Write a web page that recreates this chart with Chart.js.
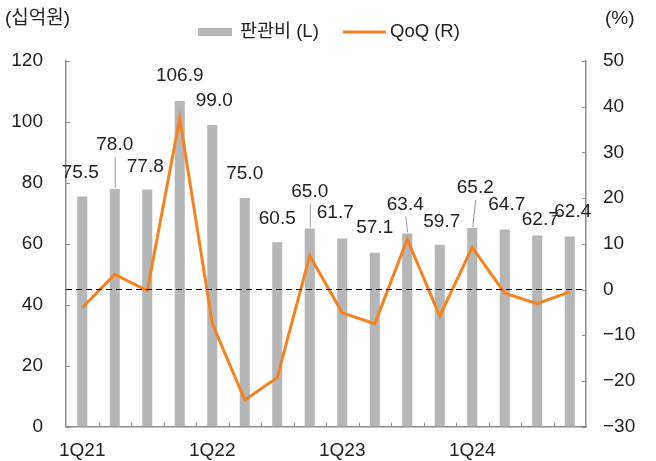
<!DOCTYPE html>
<html>
<head>
<meta charset="utf-8">
<script src="https://cdn.jsdelivr.net/npm/chart.js@4"></script>
<style>
  body { margin: 0; background: #fff; }
  #wrap { width: 656px; height: 461px; }
</style>
</head>
<body>
<div id="wrap"><canvas id="chart" width="656" height="461"></canvas></div>
<script>
const FONT = "'Liberation Sans', 'Noto Sans CJK KR', sans-serif";

// data
const quarters = ["1Q21", "2Q21", "3Q21", "4Q21", "1Q22", "2Q22", "3Q22", "4Q22",
  "1Q23", "2Q23", "3Q23", "4Q23", "1Q24", "2Q24", "3Q24", "4Q24"];
const sgaCost = [75.5, 78.0, 77.8, 106.9, 99.0, 75.0, 60.5, 65.0, 61.7, 57.1, 63.4, 59.7, 65.2, 64.7, 62.7, 62.4];
const qoqPct = [-4.0, 3.3, -0.3, 37.4, -7.4, -24.2, -19.3, 7.4, -5.1, -7.5, 11.0, -5.8, 9.2, -0.8, -3.1, -0.5];
const leftTicks = [0, 20, 40, 60, 80, 100, 120];
const rightTicks = [-30, -20, -10, 0, 10, 20, 30, 40, 50];

// label nudges (px) from the top of each bar, and which ones get a leader line
const labelShift = [[-2, -24], [0, -44], [-2, -23], [0, -25], [2, -24], [0, -24], [0, -24], [0, -37],
  [-7, -26], [0, -25], [-2, -29], [2, -23], [3, -40], [2, -25], [3, -16], [3, -25]];
const leaders = [1, 7, 10, 12];

const AXIS = "#8c8c8c";
const TEXT = "#222";

// inner tick marks, dashed zero line, legend, bar labels
const extras = {
  id: "extras",
  afterDatasetsDraw(chart) {
    const { ctx, chartArea, scales } = chart;
    const x = scales.x, y = scales.y, y1 = scales.y1;
    ctx.save();

    // dashed zero line for QoQ
    const y0 = y1.getPixelForValue(0);
    ctx.strokeStyle = "#000";
    ctx.lineWidth = 1.2;
    ctx.setLineDash([6, 4]);
    ctx.beginPath();
    ctx.moveTo(chartArea.left, y0);
    ctx.lineTo(chartArea.right, y0);
    ctx.stroke();
    ctx.setLineDash([]);

    // inner ticks
    ctx.strokeStyle = AXIS;
    ctx.lineWidth = 1;
    leftTicks.forEach(v => {
      const p = Math.round(y.getPixelForValue(v)) + 0.5;
      ctx.beginPath();
      ctx.moveTo(chartArea.left, p);
      ctx.lineTo(chartArea.left + 4, p);
      ctx.stroke();
    });
    rightTicks.forEach(v => {
      const p = Math.round(y1.getPixelForValue(v)) + 0.5;
      ctx.beginPath();
      ctx.moveTo(chartArea.right - 4, p);
      ctx.lineTo(chartArea.right, p);
      ctx.stroke();
    });
    const half = (x.getPixelForValue(1) - x.getPixelForValue(0)) / 2;
    for (let i = 1; i < quarters.length; i++) {
      const p = Math.round(x.getPixelForValue(i) - half) + 0.5;
      ctx.beginPath();
      ctx.moveTo(p, chartArea.bottom);
      ctx.lineTo(p, chartArea.bottom - 4);
      ctx.stroke();
    }

    // bar value labels
    const bars = chart.getDatasetMeta(1).data;
    ctx.font = "19px " + FONT;
    ctx.fillStyle = TEXT;
    ctx.textAlign = "center";
    ctx.textBaseline = "middle";
    bars.forEach((bar, i) => {
      const lx = bar.x + labelShift[i][0];
      const ly = bar.y + labelShift[i][1];
      ctx.fillText(sgaCost[i].toFixed(1), lx, ly);
      ctx.strokeStyle = "#999";
      ctx.lineWidth = 1;
      if (leaders.includes(i)) {
        ctx.beginPath();
        ctx.moveTo(lx + 0.5, ly + 12);
        ctx.lineTo(bar.x + 0.5, bar.y - 1);
        ctx.stroke();
      }
      if (i === quarters.length - 1) {
        // short stray leader next to the last label
        ctx.strokeStyle = "#333";
        ctx.beginPath();
        ctx.moveTo(lx - 21, ly + 4.5);
        ctx.lineTo(lx - 12, ly + 3.5);
        ctx.stroke();
      }
    });

    ctx.restore();
  },
  afterDraw(chart) {
    const { ctx } = chart;
    ctx.save();
    ctx.fillStyle = TEXT;
    ctx.font = "19px " + FONT;
    ctx.textBaseline = "middle";
    ctx.textAlign = "left";
    ctx.fillText("(십억원)", 5, 19);
    ctx.fillText("(%)", 605, 19);

    // legend
    ctx.font = "18.5px " + FONT;
    ctx.fillStyle = "#b5b6b8";
    ctx.fillRect(198, 28, 34, 8);
    ctx.fillStyle = TEXT;
    ctx.fillText("판관비 (L)", 240, 32);
    ctx.strokeStyle = "#f5821f";
    ctx.lineWidth = 3;
    ctx.beginPath();
    ctx.moveTo(343, 32);
    ctx.lineTo(386, 32);
    ctx.stroke();
    ctx.fillText("QoQ (R)", 390, 32);
    ctx.restore();
  }
};

new Chart(document.getElementById("chart"), {
  data: {
    labels: quarters,
    datasets: [
      {
        type: "line",
        label: "QoQ (R)",
        data: qoqPct,
        yAxisID: "y1",
        borderColor: "#f5821f",
        borderWidth: 3,
        pointRadius: 0,
        tension: 0,
        order: 0
      },
      {
        type: "bar",
        label: "판관비 (L)",
        data: sgaCost,
        yAxisID: "y",
        backgroundColor: "#b5b6b8",
        barPercentage: 0.31,
        categoryPercentage: 1,
        order: 1
      }
    ]
  },
  options: {
    responsive: false,
    animation: false,
    layout: { padding: { top: 61, left: 0, right: 0, bottom: 0 } },
    plugins: {
      legend: { display: false },
      tooltip: { enabled: false }
    },
    scales: {
      x: {
        offset: true,
        grid: { display: false, drawTicks: false },
        border: { color: AXIS, width: 1.5 },
        ticks: {
          autoSkip: false,
          maxRotation: 0,
          padding: 13,
          color: TEXT,
          font: { family: FONT, size: 19 },
          callback: function (value, index) {
            const lab = quarters[index];
            return lab.startsWith("1Q") ? lab : "";
          }
        },
        afterFit: s => { s.height = 34; }
      },
      y: {
        position: "left",
        min: 0,
        max: 120,
        grid: { display: false, drawTicks: false },
        border: { color: AXIS, width: 1.5 },
        ticks: {
          stepSize: 20,
          padding: 23,
          color: TEXT,
          font: { family: FONT, size: 19 }
        },
        afterFit: s => { s.width = 66; }
      },
      y1: {
        position: "right",
        min: -30,
        max: 50,
        grid: { display: false, drawTicks: false },
        border: { color: AXIS, width: 1.5 },
        ticks: {
          stepSize: 10,
          padding: 17,
          color: TEXT,
          font: { family: FONT, size: 19 },
          callback: v => (v < 0 ? "\u2212" + Math.abs(v) : v)
        },
        afterFit: s => { s.width = 70; }
      }
    }
  },
  plugins: [extras]
});
</script>
</body>
</html>
